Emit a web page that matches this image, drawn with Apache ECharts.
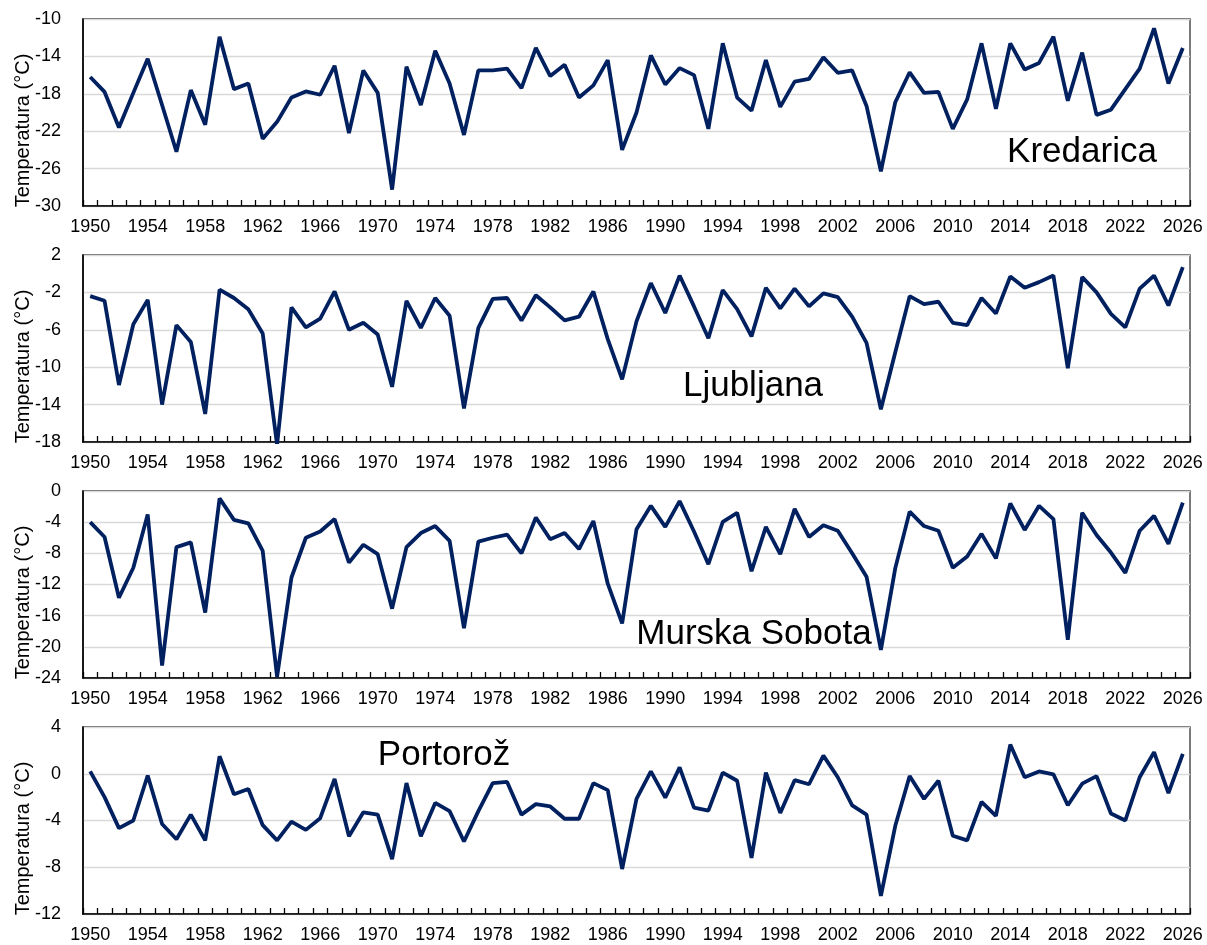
<!DOCTYPE html>
<html>
<head>
<meta charset="utf-8">
<script src="https://cdn.jsdelivr.net/npm/echarts@6/dist/echarts.min.js"></script>
<style>
html,body{margin:0;padding:0;background:#fff;}
#chart{width:1207px;height:945px;}
</style>
</head>
<body>
<div id="chart"></div>
<script>
const years = ['1950','1951','1952','1953','1954','1955','1956','1957','1958','1959',
'1960','1961','1962','1963','1964','1965','1966','1967','1968','1969',
'1970','1971','1972','1973','1974','1975','1976','1977','1978','1979',
'1980','1981','1982','1983','1984','1985','1986','1987','1988','1989',
'1990','1991','1992','1993','1994','1995','1996','1997','1998','1999',
'2000','2001','2002','2003','2004','2005','2006','2007','2008','2009',
'2010','2011','2012','2013','2014','2015','2016','2017','2018','2019',
'2020','2021','2022','2023','2024','2025','2026'];

const stations = ['Kredarica','Ljubljana','Murska Sobota','Portorož'];

const kredarica = [-16.2,-17.8,-21.6,-17.9,-14.25,-19.2,-24.2,-17.6,-21.3,-11.9,
-17.5,-16.9,-22.8,-21.0,-18.4,-17.75,-18.1,-15.0,-22.2,-15.5,
-17.9,-28.25,-15.1,-19.2,-13.4,-16.9,-22.4,-15.5,-15.5,-15.3,
-17.4,-13.1,-16.1,-14.9,-18.4,-17.1,-14.4,-24.0,-20.0,-13.9,
-17.0,-15.25,-16.0,-21.75,-12.6,-18.4,-19.8,-14.4,-19.4,-16.7,
-16.4,-14.1,-15.75,-15.5,-19.3,-26.3,-18.9,-15.7,-17.9,-17.8,
-21.75,-18.6,-12.6,-19.6,-12.6,-15.4,-14.7,-11.9,-18.75,-13.6,
-20.25,-19.7,-17.5,-15.3,-11.0,-16.9,-13.1];

const ljubljana = [-2.4,-2.9,-11.9,-5.4,-2.8,-14.0,-5.5,-7.3,-15.0,-1.7,
-2.6,-3.8,-6.4,-18.3,-3.6,-5.75,-4.8,-1.9,-6.0,-5.25,
-6.5,-12.1,-2.9,-5.8,-2.6,-4.5,-14.4,-5.8,-2.7,-2.6,
-5.0,-2.3,-3.6,-5.0,-4.6,-1.9,-7.0,-11.3,-5.1,-1.0,
-4.2,-0.2,-3.5,-6.9,-1.75,-3.8,-6.7,-1.5,-3.7,-1.6,
-3.5,-2.1,-2.5,-4.6,-7.4,-14.5,-8.4,-2.4,-3.25,-3.0,
-5.25,-5.5,-2.6,-4.25,-0.3,-1.5,-0.9,-0.2,-10.1,-0.35,
-2.0,-4.3,-5.75,-1.6,-0.2,-3.4,0.7];

const murskaSobota = [-4.0,-5.9,-13.7,-9.85,-3.0,-22.4,-7.2,-6.6,-15.6,-0.95,
-3.7,-4.15,-7.7,-23.85,-11.1,-6.0,-5.2,-3.6,-9.2,-6.9,
-8.1,-15.1,-7.2,-5.4,-4.5,-6.4,-17.6,-6.5,-6.0,-5.6,
-8.0,-3.4,-6.2,-5.4,-7.45,-3.85,-11.9,-17.0,-4.9,-1.9,
-4.6,-1.3,-5.2,-9.4,-3.95,-2.8,-10.3,-4.6,-8.1,-2.3,
-5.9,-4.4,-5.1,-8.0,-11.0,-20.4,-9.9,-2.65,-4.5,-5.1,
-9.85,-8.4,-5.5,-8.65,-1.6,-5.0,-1.9,-3.6,-19.1,-2.8,
-5.65,-7.9,-10.5,-5.1,-3.2,-6.8,-1.5];

const portoroz = [0.2,-2.0,-4.65,-4.0,-0.15,-4.3,-5.6,-3.5,-5.7,1.5,
-1.75,-1.3,-4.4,-5.7,-4.1,-4.8,-3.8,-0.45,-5.35,-3.3,
-3.5,-7.3,-0.8,-5.35,-2.5,-3.2,-5.8,-3.2,-0.8,-0.7,
-3.5,-2.6,-2.8,-3.85,-3.85,-0.8,-1.4,-8.15,-2.15,0.2,
-2.05,0.55,-2.9,-3.15,0.1,-0.6,-7.2,0.1,-3.35,-0.55,
-0.9,1.55,-0.3,-2.7,-3.5,-10.45,-4.45,-0.2,-2.15,-0.6,
-5.3,-5.7,-2.4,-3.6,2.5,-0.3,0.2,-0.05,-2.7,-0.85,
-0.2,-3.4,-4.0,-0.3,1.85,-1.65,1.7];

const yMins = [-30, -18, -24, -12];
const yMaxs = [-10, 2, 0, 4];
const yStep = 4;
const yTitle = 'Temperatura (°C)';

const seriesData = [kredarica, ljubljana, murskaSobota, portoroz];

// layout
const FONT = '"Liberation Sans", Arial, sans-serif';
const gridTops = [19, 255, 491, 727];
const gridH = 187;
const gridLeft = 83;
const gridRight = 17;
const labelPos = [[1082, 152], [753, 386], [754, 634], [444, 755]];

const grids = [], xAxes = [], yAxes = [], series = [], graphics = [];
for (let i = 0; i < 4; i++) {
  grids.push({left: gridLeft, right: gridRight, top: gridTops[i], height: gridH,
    show: true, borderColor: '#333', borderWidth: 1.3, backgroundColor: 'transparent'});
  xAxes.push({type: 'category', gridIndex: i, data: years, boundaryGap: true,
    axisLine: {show: true, onZero: false, lineStyle: {color: '#000', width: 1.6}},
    axisTick: {show: true, inside: true, length: 6, interval: 0, lineStyle: {color: '#000', width: 1.3}},
    axisLabel: {interval: 3, margin: 12, fontSize: 18, color: '#000', fontFamily: FONT},
    splitLine: {show: false}});
  yAxes.push({type: 'value', gridIndex: i, min: yMins[i], max: yMaxs[i], interval: yStep,
    axisLine: {show: true, onZero: false, lineStyle: {color: '#000', width: 1.6}},
    axisTick: {show: false},
    axisLabel: {margin: 22, fontSize: 18, color: '#000', fontFamily: FONT},
    splitLine: {show: true, lineStyle: {color: '#d9d9d9', width: 1.3}}});
  series.push({type: 'line', name: stations[i], xAxisIndex: i, yAxisIndex: i,
    data: seriesData[i], showSymbol: false, symbol: 'none', clip: true,
    lineStyle: {color: '#002060', width: 3.8}, itemStyle: {color: '#002060'}});
  graphics.push({type: 'text', x: 23, y: gridTops[i] + gridH / 2 + 18, rotation: Math.PI / 2,
    style: {text: yTitle, font: '20px ' + FONT, fill: '#000', textAlign: 'center', textVerticalAlign: 'middle'}});
  graphics.push({type: 'text', x: labelPos[i][0], y: labelPos[i][1],
    style: {text: stations[i], font: '35px ' + FONT, fill: '#000', textAlign: 'center', textVerticalAlign: 'middle'}});
}

const chart = echarts.init(document.getElementById('chart'), null, {renderer: 'canvas'});
chart.setOption({
  animation: false,
  backgroundColor: '#fff',
  textStyle: {fontFamily: FONT},
  grid: grids, xAxis: xAxes, yAxis: yAxes, series: series,
  graphic: graphics
});
</script>
</body>
</html>
